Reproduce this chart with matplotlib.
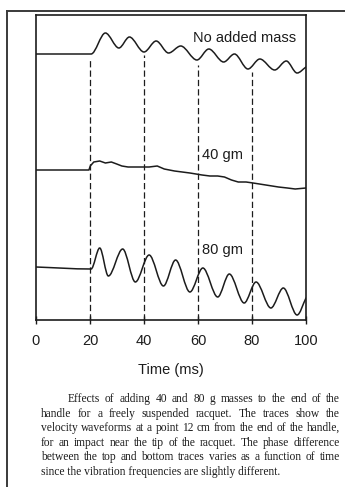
#!/usr/bin/env python3

import numpy as np
import matplotlib
matplotlib.use("Agg")
import matplotlib.pyplot as plt
from matplotlib.path import Path
from matplotlib.patches import PathPatch
from matplotlib.lines import Line2D

# Handle velocity traces (time in ms, velocity in arbitrary units)
t_none = [0, 20.4, 25.7, 30.7, 34.6, 40.0, 44.5, 49.1, 53.6, 59.6, 64.0,
          69.5, 73.5, 78.5, 82.9, 88.4, 92.7, 96.7, 100]
v_none = [266, 266, 287, 272, 283, 268, 279, 267, 274, 260, 271,
          258, 266, 251, 261, 250, 259, 247, 253]

t_40 = [0, 19.6, 20.1, 21.4, 23.6, 25.7, 27.9, 29.9, 31.8, 34.1, 41.9, 44.9,
        47.5, 51.3, 57.0, 61.5, 64.4, 67.3, 69.8, 72.4, 74.9, 77.8, 80.4,
        85.1, 89.8, 93.1, 96.0, 100]
v_40 = [150, 150, 154, 158, 159, 157, 158, 156, 154, 153, 153, 154,
        151, 149, 147, 145, 144, 144, 143, 140, 138, 138, 137,
        135, 133, 132, 131, 132]

t_80 = [0, 20.4, 23.6, 26.8, 32.1, 36.8, 41.9, 47.2, 51.7, 57.0, 61.8,
        67.3, 71.6, 77.1, 81.5, 87.0, 91.6, 96.7, 100]
v_80 = [53, 51, 72, 44, 71, 38, 65, 34, 60, 28, 52, 23, 46, 17, 38, 12,
        32, 5, 22]

# Time markers and where each dashed marker stops below the top trace
marker_t = [20, 40, 60, 80]
marker_top = [261, 265, 255, 248]

xticks = [0, 20, 40, 60, 80, 100]

caption = [
    "Effects of adding 40 and 80 g masses to the end of the",
    "handle for a freely suspended racquet. The traces show the",
    "velocity waveforms at a point 12 cm from the end of the handle,",
    "for an impact near the tip of the racquet. The phase difference",
    "between the top and bottom traces varies as a function of time",
    "since the vibration frequencies are slightly different.",
]

W, H = 345, 487
INK = "#1c1c1c"


def smooth_path(x, y):
    """Monotone cubic path through the points, as Bezier segments."""
    x = np.asarray(x, float)
    y = np.asarray(y, float)
    d = np.diff(y) / np.diff(x)
    m = np.zeros(len(x))
    m[0], m[-1] = d[0], d[-1]
    for i in range(1, len(x) - 1):
        if d[i - 1] * d[i] > 0:
            m[i] = 2.0 / (1.0 / d[i - 1] + 1.0 / d[i])
    verts = [(x[0], y[0])]
    codes = [Path.MOVETO]
    for i in range(len(x) - 1):
        h = x[i + 1] - x[i]
        verts += [(x[i] + h / 3, y[i] + m[i] * h / 3),
                  (x[i + 1] - h / 3, y[i + 1] - m[i + 1] * h / 3),
                  (x[i + 1], y[i + 1])]
        codes += [Path.CURVE4] * 3
    return Path(verts, codes)


def fx(px):
    return px / W


def fy(py):
    return 1 - py / H


def main():
    plt.rcParams["font.family"] = ["Liberation Sans", "DejaVu Sans"]
    fig = plt.figure(figsize=(W / 100, H / 100), dpi=100)
    fig.patch.set_facecolor("white")

    ax = fig.add_axes([fx(36), fy(320), fx(306) - fx(36), fy(15) - fy(320)])
    ax.set_xlim(0, 100)
    ax.set_ylim(0, 305)
    for s in ax.spines.values():
        s.set_linewidth(1.2)
        s.set_color(INK)

    # Oscillating traces drawn as smooth curves, the 40 g one as a plain line
    for t, v in [(t_none, v_none), (t_80, v_80)]:
        ax.add_patch(PathPatch(smooth_path(t, v), fill=False, lw=1.1,
                               edgecolor=INK, capstyle="round"))
    ax.plot(t_40, v_40, "-", color=INK, lw=1.1)

    ax.vlines(marker_t, 0, marker_top, colors=INK, lw=0.9,
              linestyles=(0, (5, 2.5)))

    ax.text(58, 282, "No added mass", fontsize=10.5, va="center", color=INK)
    ax.text(61.5, 165, "40 gm", fontsize=10.5, va="center", color=INK)
    ax.text(61.5, 70, "80 gm", fontsize=10.5, va="center", color=INK)

    ax.set_xticks(xticks)
    ax.set_xticklabels([str(x) for x in xticks])
    ax.set_yticks([])
    ax.tick_params(axis="x", direction="inout", length=6, width=1.0,
                   pad=7, labelsize=10.5, colors=INK)
    ax.set_xlabel("Time (ms)", fontsize=10.5, labelpad=11, color=INK)

    # Page frame (top and left rules)
    fig.add_artist(Line2D([fx(7), 1], [fy(11), fy(11)], lw=1.4, color="#3a3a3a"))
    fig.add_artist(Line2D([fx(7), fx(7)], [fy(11), 0], lw=1.4, color="#3a3a3a"))

    # Justified caption below the plot
    renderer = fig.canvas.get_renderer()
    rows_y = [399, 414, 428, 443, 457, 472]
    cap_kw = dict(fontsize=8.3, family=["Liberation Serif", "DejaVu Serif"],
                  va="center", color=INK)
    for k, (line, py) in enumerate(zip(caption, rows_y)):
        left = 68 if k == 0 else 41
        if k == len(caption) - 1:
            fig.text(fx(left), fy(py), line, **cap_kw)
            continue
        words = line.split()
        arts = [fig.text(0, fy(py), w, **cap_kw) for w in words]
        widths = [a.get_window_extent(renderer).width for a in arts]
        gap = (340 - left - sum(widths)) / (len(words) - 1)
        pos = left
        for a, w in zip(arts, widths):
            a.set_x(fx(pos))
            pos += w + gap

    fig.savefig("out.png", dpi=100)


if __name__ == "__main__":
    main()
